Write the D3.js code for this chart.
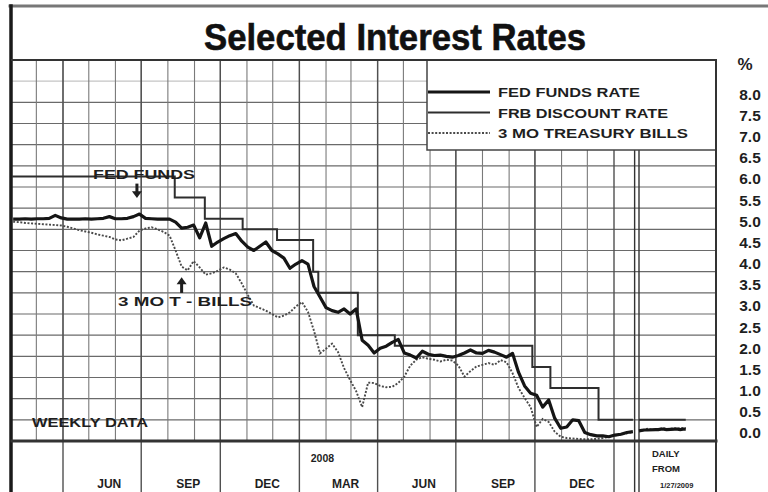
<!DOCTYPE html>
<html>
<head>
<meta charset="utf-8">
<title>Selected Interest Rates</title>
<script src="https://cdn.jsdelivr.net/npm/d3@7"></script>
<style>
    body { margin: 0; background: #fff; }
    svg { display: block; font-family: "Liberation Sans", Arial, sans-serif; font-weight: bold; }
</style>
</head>
<body>
<div id="chart"></div>
<script>

// weekly data, one value per week starting with the week of Feb 2, 2007
const weekStart = "2007-02-02";

const fedFundsWeekly = [
    5.24, 5.24, 5.25, 5.24, 5.25, 5.25, 5.26, 5.33, 5.27, 5.24,
    5.24, 5.24, 5.25, 5.24, 5.25, 5.26, 5.30, 5.25, 5.25, 5.26,
    5.30, 5.36, 5.26, 5.25, 5.24, 5.24, 5.24, 5.17, 5.03, 5.05,
    5.10, 4.80, 5.15, 4.60, 4.70, 4.78, 4.85, 4.90, 4.72, 4.58,
    4.50, 4.60, 4.70, 4.50, 4.42, 4.32, 4.08, 4.18, 4.26, 4.18,
    3.65, 3.40, 3.15, 3.08, 3.04, 3.12, 3.00, 3.12, 2.38, 2.26,
    2.08, 2.19, 2.24, 2.33, 2.40, 2.08, 2.03, 1.96, 2.12, 2.05,
    2.02, 2.03, 2.00, 1.98, 2.02, 2.08, 2.15, 2.08, 2.07, 2.14,
    2.10, 2.04, 1.98, 2.07, 1.62, 1.30, 1.13, 1.08, 0.80, 0.97,
    0.54, 0.30, 0.33, 0.50, 0.48, 0.20, 0.15, 0.12, 0.12, 0.10,
    0.14, 0.16, 0.20, 0.22
];

const tBillWeekly = [
    5.18, 5.17, 5.15, 5.14, 5.13, 5.12, 5.11, 5.10, 5.09, 5.06,
    5.02, 4.98, 4.95, 4.92, 4.88, 4.85, 4.82, 4.76, 4.74, 4.78,
    4.82, 4.97, 5.02, 5.05, 5.00, 4.94, 4.85, 4.50, 4.12, 4.03,
    4.25, 4.10, 3.93, 3.96, 4.02, 4.10, 4.05, 3.96, 3.72, 3.45,
    3.20, 3.14, 3.08, 3.00, 2.92, 2.96, 3.04, 3.18, 3.28, 3.05,
    2.60, 2.07, 2.18, 2.30, 2.10, 1.72, 1.44, 1.18, 0.80, 1.38,
    1.37, 1.30, 1.27, 1.28, 1.37, 1.52, 1.78, 1.92, 1.98, 1.94,
    1.92, 1.88, 1.92, 1.90, 1.78, 1.52, 1.65, 1.76, 1.80, 1.84,
    1.80, 1.91, 1.86, 1.60, 1.25, 1.02, 0.80, 0.33, 0.52, 0.45,
    0.22, 0.10, 0.07, 0.06, 0.05, 0.04, 0.04, 0.05, 0.07, 0.10,
    0.13, 0.15, 0.18, 0.21
];

// FRB discount rate, level from each date on
const discountDates = ["2007-02-01", "2007-08-09", "2007-09-13", "2007-10-27", "2007-12-06",
    "2008-01-17", "2008-01-23", "2008-03-09", "2008-04-21", "2008-09-28", "2008-10-19",
    "2008-12-14", "2009-01-23"];
const discountRates = [6.25, 5.75, 5.25, 5.00, 4.75, 4.00, 3.50, 2.50, 2.25, 1.75, 1.25, 0.50, 0.50];

// daily data from 1/27/2009
const dailyDates = ["2009-01-27", "2009-01-28", "2009-01-29", "2009-01-30", "2009-02-02",
    "2009-02-03", "2009-02-04", "2009-02-05", "2009-02-06", "2009-02-09", "2009-02-10",
    "2009-02-11", "2009-02-12", "2009-02-13"];
const fedFundsDaily = [0.24, 0.25, 0.26, 0.26, 0.27, 0.27, 0.28, 0.28, 0.27, 0.28, 0.28, 0.27, 0.28, 0.28];
const tBillDaily = [0.24, 0.26, 0.27, 0.29, 0.26, 0.28, 0.29, 0.30, 0.28, 0.30, 0.29, 0.31, 0.30, 0.30];
const discountDaily = [0.5, 0.5, 0.5, 0.5, 0.5, 0.5, 0.5, 0.5, 0.5, 0.5, 0.5, 0.5, 0.5, 0.5];

// x axis: quarters and their labels
const quarterEnds = ["2007-07-01", "2007-10-01", "2008-01-01", "2008-04-01", "2008-07-01", "2008-10-01", "2009-01-01"];
const quarterLabels = ["JUN", "SEP", "DEC", "MAR", "JUN", "SEP", "DEC"];

const rateTicks = [0, 0.5, 1, 1.5, 2, 2.5, 3, 3.5, 4, 4.5, 5, 5.5, 6, 6.5, 7, 7.5, 8];

const legendItems = ["FED FUNDS RATE", "FRB DISCOUNT RATE", "3 MO TREASURY BILLS"];

const parseDate = d3.timeParse("%Y-%m-%d");


class RatesChart {

    constructor(_parentElement) {
        this.parentElement = _parentElement;
        this.initVis();
    }

    initVis() {
        let vis = this;

        vis.width = 768;
        vis.height = 492;
        vis.plot = { left: 12, right: 716, top: 60, bottom: 441 };

        vis.svg = d3.select("#" + vis.parentElement).append("svg")
            .attr("width", vis.width)
            .attr("height", vis.height);

        vis.svg.append("rect")
            .attr("width", vis.width)
            .attr("height", vis.height)
            .attr("fill", "#fff");

        vis.x = d3.scaleTime()
            .domain([parseDate("2007-04-01"), parseDate("2009-01-01")])
            .range([63, 614]);

        vis.xDaily = d3.scaleTime()
            .domain([parseDate("2009-01-27"), parseDate("2009-02-24")])
            .range([639, vis.plot.right]);

        vis.y = d3.scaleLinear()
            .domain([0, 9])
            .range([vis.plot.bottom, vis.plot.top]);

        vis.wrangleData();
    }

    wrangleData() {
        let vis = this;

        let start = parseDate(weekStart);
        let weekly = (values) => values.map((v, i) => ({ date: d3.timeDay.offset(start, 7 * i), value: v }));
        let daily = (values) => values.map((v, i) => ({ date: parseDate(dailyDates[i]), value: v }));

        vis.fedFunds = weekly(fedFundsWeekly);
        vis.tBills = weekly(tBillWeekly);
        vis.discount = discountDates.map((d, i) => ({ date: parseDate(d), value: discountRates[i] }));

        vis.fedFundsD = daily(fedFundsDaily);
        vis.tBillsD = daily(tBillDaily);
        vis.discountD = daily(discountDaily);

        vis.updateVis();
    }

    // wide, slightly stretched lettering like the printed chart
    label(parent, x, y, size, width, txt) {
        return parent.append("text")
            .attr("x", x)
            .attr("y", y)
            .attr("font-size", size)
            .attr("textLength", width)
            .attr("lengthAdjust", "spacingAndGlyphs")
            .attr("fill", "#1e1e1e")
            .text(txt);
    }

    updateVis() {
        let vis = this;
        let p = vis.plot;

        // title
        vis.svg.append("text")
            .attr("x", 395)
            .attr("y", 50)
            .attr("text-anchor", "middle")
            .attr("font-size", 37)
            .attr("textLength", 382)
            .attr("lengthAdjust", "spacingAndGlyphs")
            .attr("fill", "#111")
            .attr("stroke", "#111")
            .attr("stroke-width", 0.6)
            .text("Selected Interest Rates");

        // horizontal grid
        let grid = vis.svg.append("g").attr("class", "grid");
        grid.selectAll(".hgrid")
            .data(rateTicks.concat([8.5]))
            .enter().append("line")
            .attr("x1", p.left)
            .attr("x2", p.right)
            .attr("y1", d => vis.y(d))
            .attr("y2", d => vis.y(d))
            .attr("stroke", d => d > 8 ? "#c4c4c4" : "#6a6a6a")
            .attr("stroke-width", 1.1);

        // monthly vertical grid
        let months = d3.timeMonth.range(parseDate("2007-03-01"), parseDate("2009-01-01"));
        grid.selectAll(".vgrid")
            .data(months)
            .enter().append("line")
            .attr("x1", d => vis.x(d))
            .attr("x2", d => vis.x(d))
            .attr("y1", p.top)
            .attr("y2", p.bottom)
            .attr("stroke", "#7a7a7a")
            .attr("stroke-width", 1.1);

        // quarter separators run through the axis band
        let quarters = [parseDate("2007-04-01")].concat(quarterEnds.map(parseDate));
        grid.selectAll(".qgrid")
            .data(quarters)
            .enter().append("line")
            .attr("x1", d => vis.x(d))
            .attr("x2", d => vis.x(d))
            .attr("y1", p.top)
            .attr("y2", vis.height)
            .attr("stroke", "#505050")
            .attr("stroke-width", 1.4);

        // break between weekly and daily data
        let breaks = [vis.x(parseDate("2009-01-25")), vis.xDaily.range()[0]];
        grid.selectAll(".break")
            .data(breaks)
            .enter().append("line")
            .attr("x1", d => d)
            .attr("x2", d => d)
            .attr("y1", p.top)
            .attr("y2", vis.height)
            .attr("stroke", "#333")
            .attr("stroke-width", 1.4);

        // legend box
        let legend = vis.svg.append("g");
        legend.append("rect")
            .attr("x", 427)
            .attr("y", p.top)
            .attr("width", p.right - 427)
            .attr("height", 90)
            .attr("fill", "#fff")
            .attr("stroke", "#444")
            .attr("stroke-width", 1.5);

        let styles = [
            { width: 3.2, color: "#151515", dash: null },
            { width: 2, color: "#2e2e2e", dash: null },
            { width: 1.9, color: "#4a4a4a", dash: "2,1.6" }
        ];
        let textWidths = [142, 170, 190];

        legendItems.forEach(function(txt, i) {
            let ly = 92 + i * 20.5;
            legend.append("line")
                .attr("x1", 428)
                .attr("x2", 490)
                .attr("y1", ly)
                .attr("y2", ly)
                .attr("stroke", styles[i].color)
                .attr("stroke-width", styles[i].width)
                .attr("stroke-dasharray", styles[i].dash);
            vis.label(legend, 498, ly + 5, 13.5, textWidths[i], txt);
        });

        // series
        let line = d3.line()
            .x(d => vis.x(d.date))
            .y(d => vis.y(d.value));
        let lineDaily = d3.line()
            .x(d => vis.xDaily(d.date))
            .y(d => vis.y(d.value));
        let stepLine = d3.line()
            .x(d => vis.x(d.date))
            .y(d => vis.y(d.value))
            .curve(d3.curveStepAfter);

        let series = vis.svg.append("g").attr("fill", "none");

        series.append("path").attr("d", line(vis.tBills))
            .attr("stroke", styles[2].color).attr("stroke-width", styles[2].width).attr("stroke-dasharray", styles[2].dash);
        series.append("path").attr("d", lineDaily(vis.tBillsD))
            .attr("stroke", styles[2].color).attr("stroke-width", styles[2].width).attr("stroke-dasharray", styles[2].dash);

        series.append("path").attr("d", stepLine(vis.discount))
            .attr("stroke", styles[1].color).attr("stroke-width", styles[1].width);
        series.append("path").attr("d", lineDaily(vis.discountD))
            .attr("stroke", styles[1].color).attr("stroke-width", styles[1].width);

        series.append("path").attr("d", line(vis.fedFunds))
            .attr("stroke", styles[0].color).attr("stroke-width", styles[0].width).attr("stroke-linejoin", "round");
        series.append("path").attr("d", lineDaily(vis.fedFundsD))
            .attr("stroke", styles[0].color).attr("stroke-width", styles[0].width);

        // annotations
        let notes = vis.svg.append("g").attr("fill", "#1e1e1e");
        let ffx = vis.x(parseDate("2007-06-26"));
        vis.label(notes, 93, vis.y(6.3) + 5, 13.5, 102, "FED FUNDS");
        notes.append("rect")
            .attr("x", ffx - 1.5).attr("y", vis.y(6.08)).attr("width", 3).attr("height", 9);
        notes.append("path")
            .attr("d", `M${ffx - 5},${vis.y(5.9)} L${ffx + 5},${vis.y(5.9)} L${ffx},${vis.y(5.74)} Z`);

        let tbx = vis.x(parseDate("2007-08-17"));
        vis.label(notes, 118, vis.y(3.3) + 5, 13.5, 134, "3 MO T - BILLS");
        notes.append("path")
            .attr("d", `M${tbx - 5},${vis.y(3.7)} L${tbx + 5},${vis.y(3.7)} L${tbx},${vis.y(3.87)} Z`);
        notes.append("rect")
            .attr("x", tbx - 1.5).attr("y", vis.y(3.71)).attr("width", 3).attr("height", 9);

        vis.label(notes, 32, vis.y(0.45) + 5, 13.5, 116, "WEEKLY DATA");

        // frame
        let frame = vis.svg.append("g").attr("stroke-linecap", "square");
        frame.append("line").attr("x1", 10).attr("x2", vis.width).attr("y1", 6).attr("y2", 6)
            .attr("stroke", "#777").attr("stroke-width", 3);
        frame.append("line").attr("x1", 11).attr("x2", 11).attr("y1", 6).attr("y2", vis.height)
            .attr("stroke", "#1a1a1a").attr("stroke-width", 3.5);
        frame.append("line").attr("x1", p.left).attr("x2", p.right).attr("y1", p.top).attr("y2", p.top)
            .attr("stroke", "#333").attr("stroke-width", 2);
        frame.append("line").attr("x1", p.left).attr("x2", p.right).attr("y1", p.bottom).attr("y2", p.bottom)
            .attr("stroke", "#333").attr("stroke-width", 3);
        frame.append("line").attr("x1", p.right).attr("x2", p.right).attr("y1", p.top).attr("y2", vis.height)
            .attr("stroke", "#333").attr("stroke-width", 2);

        // y axis labels on the right
        let yAxis = d3.axisRight(vis.y)
            .tickValues(rateTicks)
            .tickSize(0)
            .tickPadding(0)
            .tickFormat(d3.format(".1f"));

        vis.svg.append("g")
            .attr("class", "y-axis axis")
            .attr("transform", "translate(750,0)")
            .call(yAxis)
            .call(g => g.select(".domain").remove())
            .selectAll("text")
            .attr("y", -8)
            .attr("text-anchor", "middle")
            .attr("font-family", "Liberation Sans, Arial, sans-serif")
            .attr("font-weight", "bold")
            .attr("font-size", 15.5)
            .attr("fill", "#1e1e1e");

        vis.svg.append("text")
            .attr("x", 745).attr("y", 70)
            .attr("text-anchor", "middle")
            .attr("font-size", 17)
            .attr("fill", "#1e1e1e")
            .text("%");

        // month labels under the plot
        let axisText = vis.svg.append("g").attr("fill", "#1e1e1e").attr("text-anchor", "middle");
        axisText.selectAll(".month")
            .data(quarterEnds)
            .enter().append("text")
            .attr("x", d => vis.x(parseDate(d)) - 32)
            .attr("y", 488)
            .attr("font-size", 12)
            .text((d, i) => quarterLabels[i]);

        axisText.append("text")
            .attr("x", vis.x(parseDate("2008-01-01")) + 23)
            .attr("y", 462)
            .attr("font-size", 10.5)
            .text("2008");

        let dailyNote = vis.svg.append("g").attr("fill", "#1e1e1e");
        dailyNote.append("text").attr("x", 652).attr("y", 457).attr("font-size", 9.5).text("DAILY");
        dailyNote.append("text").attr("x", 652).attr("y", 472).attr("font-size", 9.5).text("FROM");
        dailyNote.append("text").attr("x", 660).attr("y", 488).attr("font-size", 7.5).text("1/27/2009");
    }
}

new RatesChart("chart");

</script>
</body>
</html>
